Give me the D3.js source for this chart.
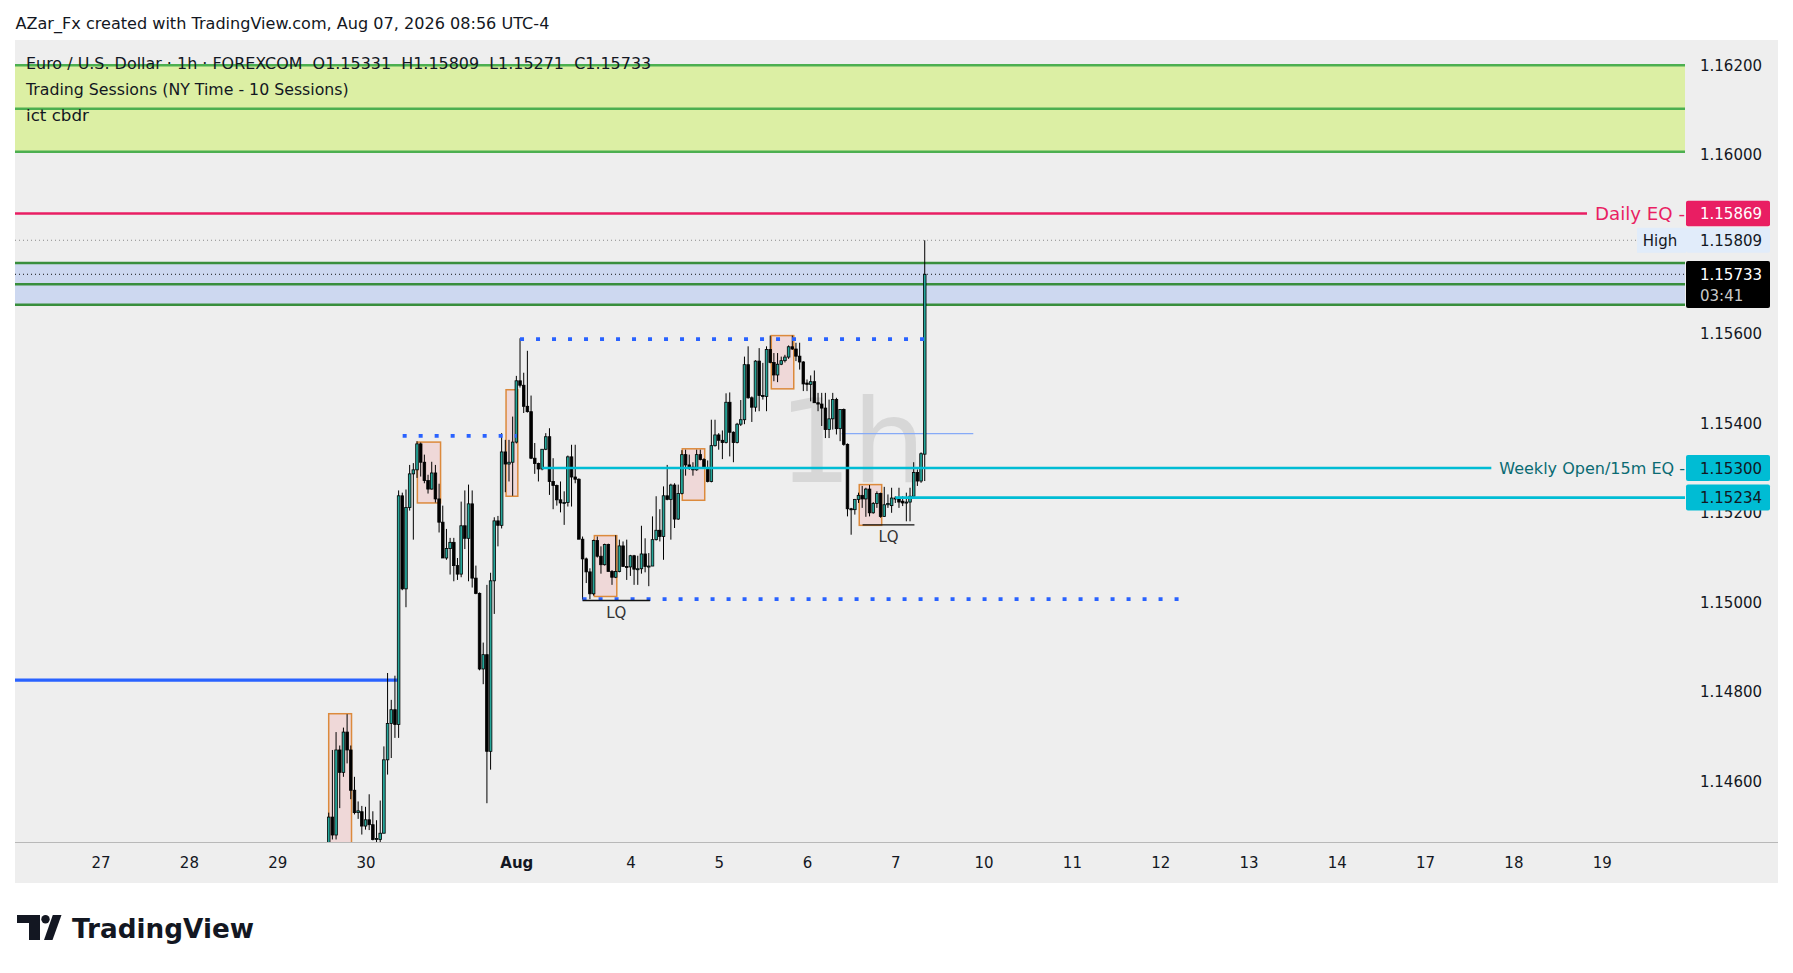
<!DOCTYPE html>
<html>
<head>
<meta charset="utf-8">
<script src="https://cdn.jsdelivr.net/npm/d3@7"></script>
<style>
  body { margin: 0; background: #fff; }
  svg { display: block; }
  text { font-family: "DejaVu Sans", sans-serif; }
</style>
</head>
<body>
<svg id="chart" width="1793" height="973"></svg>
<script>
// EURUSD 1h candles, bar index counted from Jul 27 00:00 (NY time)
var firstBar = 62;

var opens = [
  1.1443, 1.1452, 1.1448, 1.1467, 1.1462, 1.1471, 1.1467, 1.1458, 1.1453, 1.14532,
  1.1450, 1.14514, 1.14503, 1.1447, 1.1447, 1.14484, 1.14648, 1.14729, 1.1476, 1.14727,
  1.15238, 1.1503, 1.15212, 1.15287, 1.15296, 1.15354, 1.15313, 1.15272, 1.15253, 1.15289,
  1.15231, 1.15179, 1.15099, 1.1512, 1.15134, 1.15082, 1.15063, 1.15171, 1.15143, 1.1522,
  1.15054, 1.1502, 1.14851, 1.14883, 1.14667, 1.15048, 1.15182, 1.15172, 1.15336, 1.15309,
  1.15313, 1.15358, 1.15495, 1.15485, 1.15438, 1.15426, 1.15322, 1.1531, 1.15298, 1.15342,
  1.1537, 1.1527, 1.15261, 1.15229, 1.15222, 1.15223, 1.15325, 1.1528, 1.15275, 1.15141,
  1.15097, 1.15068, 1.15019, 1.15138, 1.15103, 1.15084, 1.15129, 1.15069, 1.15056, 1.15069,
  1.15126, 1.1508, 1.15079, 1.15104, 1.15074, 1.15075, 1.15108, 1.1508, 1.15081, 1.1514,
  1.15161, 1.15147, 1.15238, 1.1523, 1.15262, 1.15186, 1.15243, 1.1533, 1.15307, 1.15302,
  1.15296, 1.1533, 1.15319, 1.153, 1.1527, 1.1535, 1.15374, 1.15362, 1.15357, 1.15447,
  1.1538, 1.15357, 1.15398, 1.15408, 1.15531, 1.15457, 1.15436, 1.15539, 1.15462, 1.1546,
  1.15565, 1.15536, 1.15508, 1.15532, 1.1554, 1.15548, 1.15571, 1.15566, 1.1555, 1.15537,
  1.1549, 1.15487, 1.15493, 1.15446, 1.15443, 1.15434, 1.15386, 1.1541, 1.15453, 1.15388,
  1.15431, 1.15353, 1.15209, 1.15207, 1.1523, 1.15239, 1.15231, 1.15253, 1.152, 1.15221,
  1.15243, 1.15192, 1.15218, 1.15216, 1.15233, 1.15231, 1.15226, 1.15222, 1.15224, 1.15237,
  1.1529, 1.15271, 1.15331
];
var highs = [
  1.1453, 1.1467, 1.1471, 1.1468, 1.1472, 1.1475, 1.1468, 1.1461, 1.14555, 1.14545,
  1.14543, 1.14571, 1.14533, 1.14513, 1.14557, 1.14678, 1.14842, 1.14782, 1.14836, 1.1525,
  1.15245, 1.15252, 1.15307, 1.15311, 1.1536, 1.15357, 1.1533, 1.15285, 1.15314, 1.15307,
  1.15265, 1.15216, 1.15164, 1.15144, 1.15144, 1.15099, 1.15225, 1.1525, 1.15263, 1.1525,
  1.15082, 1.15022, 1.1491, 1.15039, 1.15066, 1.1519, 1.15193, 1.15378, 1.15363, 1.15363,
  1.15415, 1.15506, 1.1559, 1.15513, 1.15562, 1.15462, 1.15356, 1.15312, 1.15342, 1.15378,
  1.15389, 1.15322, 1.15263, 1.1527, 1.15248, 1.15328, 1.15352, 1.15352, 1.15277, 1.15147,
  1.151, 1.15076, 1.1514, 1.15147, 1.15125, 1.15131, 1.15131, 1.15072, 1.1515, 1.1514,
  1.15136, 1.1514, 1.15106, 1.15106, 1.15104, 1.15171, 1.15143, 1.1511, 1.15192, 1.15237,
  1.15208, 1.15259, 1.15307, 1.15265, 1.15266, 1.15263, 1.1534, 1.15341, 1.1533, 1.15313,
  1.15341, 1.15341, 1.15322, 1.15317, 1.15408, 1.15408, 1.15378, 1.15384, 1.15467, 1.15469,
  1.15382, 1.15401, 1.15452, 1.15549, 1.15572, 1.1546, 1.15541, 1.15568, 1.15535, 1.15572,
  1.15596, 1.15557, 1.15557, 1.15549, 1.15553, 1.15574, 1.15596, 1.1558, 1.1558, 1.15539,
  1.15498, 1.15507, 1.15518, 1.15468, 1.15468, 1.15468, 1.15453, 1.15468, 1.15457, 1.15431,
  1.15433, 1.15355, 1.15211, 1.15231, 1.15245, 1.1526, 1.15256, 1.15262, 1.15224, 1.15248,
  1.15245, 1.15258, 1.15241, 1.15256, 1.15237, 1.15256, 1.15237, 1.15245, 1.15256, 1.15313,
  1.15297, 1.15335, 1.15809
];
var lows = [
  1.1440, 1.1447, 1.1447, 1.1454, 1.1461, 1.1464, 1.1456, 1.14526, 1.14516, 1.14481,
  1.14492, 1.14491, 1.14468, 1.14455, 1.14462, 1.14484, 1.14615, 1.14652, 1.14697, 1.14697,
  1.15027, 1.14989, 1.15205, 1.1514, 1.15278, 1.15281, 1.15266, 1.15243, 1.15252, 1.15223,
  1.15156, 1.15099, 1.15095, 1.15062, 1.15047, 1.1505, 1.15056, 1.15119, 1.15047, 1.15033,
  1.15018, 1.14848, 1.14817, 1.14551, 1.14626, 1.14974, 1.15125, 1.15165, 1.15246, 1.1527,
  1.15238, 1.15355, 1.1548, 1.15423, 1.15424, 1.1532, 1.15287, 1.1527, 1.15295, 1.1534,
  1.1524, 1.15208, 1.15216, 1.15201, 1.15173, 1.15214, 1.15214, 1.15266, 1.15141, 1.15006,
  1.15043, 1.15007, 1.15015, 1.151, 1.15064, 1.15082, 1.15069, 1.15039, 1.15054, 1.15067,
  1.1508, 1.1505, 1.15059, 1.15039, 1.15039, 1.15064, 1.15067, 1.15036, 1.15081, 1.15138,
  1.15136, 1.15095, 1.15228, 1.1514, 1.15166, 1.15184, 1.15241, 1.15283, 1.15296, 1.15283,
  1.15294, 1.15317, 1.15298, 1.15268, 1.15268, 1.15348, 1.15341, 1.1532, 1.15355, 1.15326,
  1.15313, 1.15355, 1.15394, 1.15398, 1.15455, 1.15403, 1.15426, 1.15427, 1.15453, 1.15427,
  1.15534, 1.15494, 1.15492, 1.1553, 1.15536, 1.15544, 1.15564, 1.15539, 1.1552, 1.15472,
  1.15472, 1.15449, 1.15446, 1.15427, 1.15394, 1.15367, 1.15367, 1.15386, 1.15375, 1.1536,
  1.1535, 1.15192, 1.15151, 1.15196, 1.15222, 1.15211, 1.15191, 1.15192, 1.15198, 1.15211,
  1.15189, 1.15191, 1.15211, 1.152, 1.15222, 1.15211, 1.15215, 1.15181, 1.15181, 1.15237,
  1.1526, 1.15267, 1.15271
];
var closes = [
  1.1452, 1.1448, 1.1467, 1.1462, 1.1471, 1.1467, 1.1458, 1.1453, 1.14534, 1.1450,
  1.14514, 1.14503, 1.1447, 1.14472, 1.14484, 1.14648, 1.14729, 1.1476, 1.14727, 1.15238,
  1.1503, 1.15212, 1.15287, 1.15296, 1.15354, 1.15313, 1.15272, 1.15253, 1.15289, 1.15231,
  1.15179, 1.15099, 1.1512, 1.15134, 1.15082, 1.15063, 1.15171, 1.15143, 1.1522, 1.15054,
  1.1502, 1.14851, 1.14883, 1.14667, 1.15048, 1.15182, 1.15172, 1.15336, 1.15309, 1.15313,
  1.15358, 1.15495, 1.15485, 1.15438, 1.15426, 1.15322, 1.1531, 1.15298, 1.15342, 1.1537,
  1.1527, 1.15261, 1.15229, 1.15222, 1.15223, 1.15325, 1.1528, 1.15275, 1.15141, 1.15097,
  1.15068, 1.15019, 1.15138, 1.15103, 1.15084, 1.15129, 1.15069, 1.15056, 1.15069, 1.15126,
  1.1508, 1.15079, 1.15104, 1.15074, 1.15075, 1.15108, 1.1508, 1.15081, 1.1514, 1.15161,
  1.15147, 1.15238, 1.1523, 1.15262, 1.15186, 1.15243, 1.1533, 1.15307, 1.15302, 1.15296,
  1.1533, 1.15319, 1.153, 1.1527, 1.1535, 1.15374, 1.15362, 1.15357, 1.15447, 1.1538,
  1.15357, 1.15398, 1.15408, 1.15531, 1.15457, 1.15436, 1.15539, 1.15462, 1.1546, 1.15565,
  1.15536, 1.15508, 1.15532, 1.1554, 1.15548, 1.15571, 1.15566, 1.1555, 1.15537, 1.15488,
  1.15487, 1.15493, 1.15446, 1.15443, 1.15434, 1.15386, 1.1541, 1.15453, 1.15388, 1.15431,
  1.15353, 1.15209, 1.15207, 1.1523, 1.15239, 1.15231, 1.15253, 1.152, 1.15221, 1.15243,
  1.15192, 1.15218, 1.15221, 1.15233, 1.15231, 1.15224, 1.15222, 1.15224, 1.15237, 1.1529,
  1.15271, 1.15332, 1.15733
];

var dayTicks  = [0, 24, 48, 72, 113, 144, 168, 192, 216, 240, 264, 288, 312, 336, 360, 384, 408];
var dayLabels = ["27", "28", "29", "30", "Aug", "4", "5", "6", "7", "10", "11", "12", "13", "14", "17", "18", "19"];
// 1.158 sits under the High tag on the scale, so it is not listed
var priceTicks = [1.146, 1.148, 1.150, 1.152, 1.154, 1.156, 1.160, 1.162];

// drawn levels
var sessionLines = [1.162, 1.16103, 1.16007];
var cbdrLines = [1.15758, 1.15711, 1.15665];
var dailyEQ = 1.15869, highPrice = 1.15809, lastPrice = 1.15733;
var weeklyOpen = 1.153, weeklyFrom = 120, weeklyTo = 378;
var lowCyan = 1.15234, lowCyanFrom = 216;
var oldLevel = 1.14826, oldLevelTo = 81;
var thinLevel = 1.15377, thinFrom = 201.4, thinTo = 237.2;

// order block boxes (bar index range, price range)
var boxStart = [62, 86.1, 110.2, 134.2, 158.1, 182.3, 206.2];
var boxEnd   = [68.2, 92.4, 113.4, 140.3, 164.2, 188.4, 212.3];
var boxTop   = [1.14751, 1.15358, 1.15475, 1.15149, 1.15343, 1.15596, 1.15263];
var boxBot   = [1.1440, 1.15222, 1.15237, 1.15013, 1.15228, 1.15477, 1.15172];

// dotted liquidity levels
var dotPrice = [1.15372, 1.15588, 1.15007];
var dotFrom  = [82.1, 114, 131];
var dotTo    = [113.1, 224.1, 293];

// LQ marks
var lqPrice = [1.15004, 1.15173];
var lqFrom  = [131, 207.1];
var lqTo    = [149.3, 221.2];

var W = 1793, H = 973;
var plotL = 15, plotR = 1685, plotT = 41, plotB = 842, panelR = 1778, panelB = 883;

var svg = d3.select("#chart");
var x = d3.scaleLinear().domain([0, 216]).range([100.6, 895.3]);
var y = d3.scaleLinear().domain([1.162, 1.146]).range([65.3, 781.3]);

svg.append("rect").attr("width", W).attr("height", H).attr("fill", "#fff");
svg.append("rect").attr("x", plotL).attr("y", 40).attr("width", panelR - plotL)
  .attr("height", panelB - 40).attr("fill", "#eeeeee");

svg.append("clipPath").attr("id", "plotclip").append("rect")
  .attr("x", plotL).attr("y", plotT).attr("width", plotR - plotL).attr("height", plotB - plotT);
var plot = svg.append("g").attr("clip-path", "url(#plotclip)");

function hline(g, p, x1, x2, color, w, dash) {
  var l = g.append("line").attr("x1", x1).attr("x2", x2)
    .attr("y1", y(p)).attr("y2", y(p)).attr("stroke", color).attr("stroke-width", w);
  if (dash) l.attr("stroke-dasharray", dash);
  return l;
}

// session zone
plot.append("rect").attr("x", plotL).attr("width", plotR - plotL)
  .attr("y", y(sessionLines[0])).attr("height", y(sessionLines[2]) - y(sessionLines[0]))
  .attr("fill", "#dcefa4");
sessionLines.forEach(function(p) { hline(plot, p, plotL, plotR, "#4caf50", 2.5); });

// watermark
plot.append("text").attr("x", 852).attr("y", 482).attr("text-anchor", "middle")
  .attr("font-size", 116).attr("fill", "#d7d7d7").text("1h");

// cbdr zone
plot.append("rect").attr("x", plotL).attr("width", plotR - plotL)
  .attr("y", y(cbdrLines[0])).attr("height", y(cbdrLines[2]) - y(cbdrLines[0]))
  .attr("fill", "#cdd8f0");
cbdrLines.forEach(function(p) { hline(plot, p, plotL, plotR, "#388e3c", 2.5); });

hline(plot, highPrice, plotL, 1637, "#8a8a8a", 1, "1,3");
hline(plot, lastPrice, plotL, plotR, "#111", 1, "1,3");
hline(plot, dailyEQ, plotL, 1587, "#e91e63", 2.5);
hline(plot, oldLevel, plotL, x(oldLevelTo), "#2962ff", 3.3);
hline(plot, thinLevel, x(thinFrom), x(thinTo), "#86aaf7", 1.3);

// boxes
plot.selectAll("rect.box").data(boxStart).enter().append("rect").attr("class", "box")
  .attr("x", function(d) { return x(d); })
  .attr("width", function(d, i) { return x(boxEnd[i]) - x(d); })
  .attr("y", function(d, i) { return y(boxTop[i]); })
  .attr("height", function(d, i) { return y(boxBot[i]) - y(boxTop[i]); })
  .attr("fill", "#efd8d8").attr("stroke", "#dc8a3c").attr("stroke-width", 1.5);

// candles
var bars = d3.range(opens.length);
var cg = plot.append("g");
cg.selectAll("line.wick").data(bars).enter().append("line")
  .attr("x1", function(i) { return x(firstBar + i); })
  .attr("x2", function(i) { return x(firstBar + i); })
  .attr("y1", function(i) { return y(highs[i]); })
  .attr("y2", function(i) { return y(lows[i]); })
  .attr("stroke", "#000").attr("stroke-width", 1);
cg.selectAll("rect.body").data(bars).enter().append("rect")
  .attr("x", function(i) { return x(firstBar + i) - 1.3; })
  .attr("width", 2.6)
  .attr("y", function(i) { return y(Math.max(opens[i], closes[i])); })
  .attr("height", function(i) { return Math.max(1, Math.abs(y(opens[i]) - y(closes[i]))); })
  .attr("fill", function(i) { return closes[i] >= opens[i] ? "#26a69a" : "#000"; })
  .attr("stroke", "#000").attr("stroke-width", 0.8);

// cyan levels
hline(plot, weeklyOpen, x(weeklyFrom), x(weeklyTo), "#00bcd4", 2.6);
hline(plot, lowCyan, x(lowCyanFrom), plotR, "#00bcd4", 2.6);

// dotted liquidity
dotPrice.forEach(function(p, i) {
  hline(plot, p, x(dotFrom[i]), x(dotTo[i]), "#2962ff", 3.6, "4,12");
});

// LQ
lqPrice.forEach(function(p, i) {
  hline(plot, p, x(lqFrom[i]), x(lqTo[i]), "#111", 1.4);
  plot.append("text").attr("x", (x(lqFrom[i]) + x(lqTo[i])) / 2).attr("y", y(p) + 17.5)
    .attr("text-anchor", "middle").attr("font-size", 15).attr("fill", "#333").text("LQ");
});

// axes
svg.append("line").attr("x1", plotL).attr("x2", panelR).attr("y1", plotB + 0.5).attr("y2", plotB + 0.5)
  .attr("stroke", "#b8b8b8").attr("stroke-width", 1);

var ya = svg.append("g").attr("transform", "translate(" + plotR + ",0)")
  .call(d3.axisRight(y).tickValues(priceTicks).tickFormat(d3.format(".5f")).tickSize(0).tickPadding(15));
ya.select(".domain").remove();
ya.selectAll("text").attr("font-size", 15).attr("font-family", "DejaVu Sans").attr("fill", "#131722");

var xa = svg.append("g").attr("transform", "translate(0," + plotB + ")")
  .call(d3.axisBottom(x).tickValues(dayTicks).tickFormat(function(d, i) { return dayLabels[i]; })
    .tickSize(0).tickPadding(15));
xa.select(".domain").remove();
xa.selectAll("text").attr("font-size", 15).attr("font-family", "DejaVu Sans").attr("fill", "#131722")
  .attr("font-weight", function(d, i) { return dayLabels[i] === "Aug" ? "bold" : null; });

// price labels on the scale
function tag(p, h, fill, txt, color) {
  svg.append("rect").attr("x", 1686).attr("y", y(p) - h / 2).attr("width", 84).attr("height", h)
    .attr("rx", 2).attr("fill", fill);
  svg.append("text").attr("x", 1700).attr("y", y(p) + 5.5).attr("font-size", 15)
    .attr("fill", color).text(txt);
}
tag(dailyEQ, 25.5, "#e91e63", d3.format(".5f")(dailyEQ), "#fff");
svg.append("rect").attr("x", 1637).attr("y", y(highPrice) - 12.5).attr("width", 49).attr("height", 25)
  .attr("fill", "#e1ecfa");
tag(highPrice, 25, "#e1ecfa", d3.format(".5f")(highPrice), "#131722");
svg.append("text").attr("x", 1660).attr("y", y(highPrice) + 5.5).attr("text-anchor", "middle")
  .attr("font-size", 15).attr("fill", "#131722").text("High");

svg.append("rect").attr("x", 1686).attr("y", 261).attr("width", 84).attr("height", 47).attr("rx", 2).attr("fill", "#000");
svg.append("text").attr("x", 1700).attr("y", y(lastPrice) + 5.5).attr("font-size", 15).attr("fill", "#fff")
  .text(d3.format(".5f")(lastPrice));
svg.append("text").attr("x", 1700).attr("y", y(lastPrice) + 26.5).attr("font-size", 15).attr("fill", "#c9c9c9")
  .text("03:41");

tag(weeklyOpen, 26, "#00bcd4", d3.format(".5f")(weeklyOpen), "#131722");
tag(lowCyan, 26, "#00bcd4", d3.format(".5f")(lowCyan), "#131722");

function fit(sel, w) {
  var fs = parseFloat(sel.attr("font-size"));
  var cur = sel.node().getComputedTextLength();
  sel.attr("font-size", fs * w / cur);
  return sel;
}

fit(svg.append("text").attr("x", 1685).attr("y", y(dailyEQ) + 6.5).attr("text-anchor", "end")
  .attr("font-size", 18).attr("fill", "#e91e63").text("Daily EQ -"), 90);
fit(svg.append("text").attr("x", 1685).attr("y", y(weeklyOpen) + 6).attr("text-anchor", "end")
  .attr("font-size", 16).attr("fill", "#0a6b73").text("Weekly Open/15m EQ -"), 186);

// legend
fit(svg.append("text").attr("x", 15.5).attr("y", 28.5).attr("font-size", 15).attr("fill", "#131722")
  .text("AZar_Fx created with TradingView.com, Aug 07, 2026 08:56 UTC-4"), 534);
fit(svg.append("text").attr("x", 26).attr("y", 68.5).attr("font-size", 15).attr("fill", "#131722")
  .style("white-space", "pre")
  .text("Euro / U.S. Dollar \u00b7 1h \u00b7 FOREXCOM  O1.15331  H1.15809  L1.15271  C1.15733"), 626);
fit(svg.append("text").attr("x", 26).attr("y", 94.5).attr("font-size", 15).attr("fill", "#131722")
  .text("Trading Sessions (NY Time - 10 Sessions)"), 323);
fit(svg.append("text").attr("x", 26).attr("y", 120.5).attr("font-size", 15).attr("fill", "#131722")
  .text("ict cbdr"), 63);

// TradingView mark
var logo = svg.append("g").attr("fill", "#131722");
logo.append("path").attr("d", "M17,915H40V940H29V923H17Z");
logo.append("circle").attr("cx", 45.5).attr("cy", 919.3).attr("r", 4.2);
logo.append("path").attr("d", "M52.8,915H61.5L52.5,940H44Z");
fit(logo.append("text").attr("x", 72).attr("y", 937.5).attr("font-size", 28).attr("font-weight", "bold")
  .text("TradingView"), 182);
</script>
</body>
</html>
